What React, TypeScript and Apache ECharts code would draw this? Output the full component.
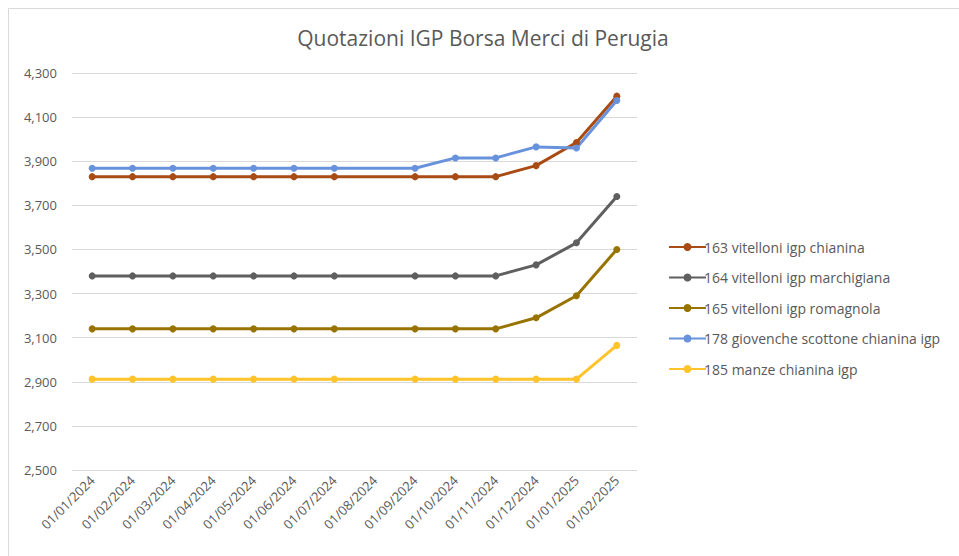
import React, { useEffect, useRef } from "react";
import * as echarts from "echarts";

const categories = [
  "01/01/2024", "01/02/2024", "01/03/2024", "01/04/2024", "01/05/2024", "01/06/2024", "01/07/2024",
  "01/08/2024", "01/09/2024", "01/10/2024", "01/11/2024", "01/12/2024", "01/01/2025", "01/02/2025",
];

const seriesNames = [
  "163 vitelloni igp chianina",
  "164 vitelloni igp marchigiana",
  "165 vitelloni igp romagnola",
  "178 giovenche scottone chianina igp",
  "185 manze chianina igp",
];

const chianina = [3830, 3830, 3830, 3830, 3830, 3830, 3830, null, 3830, 3830, 3830, 3880, 3985, 4195];
const marchigiana = [3380, 3380, 3380, 3380, 3380, 3380, 3380, null, 3380, 3380, 3380, 3430, 3530, 3740];
const romagnola = [3140, 3140, 3140, 3140, 3140, 3140, 3140, null, 3140, 3140, 3140, 3190, 3290, 3500];
const giovenche = [3868, 3868, 3868, 3868, 3868, 3868, 3868, null, 3868, 3915, 3915, 3965, 3960, 4175];
const manze = [2912, 2912, 2912, 2912, 2912, 2912, 2912, null, 2912, 2912, 2912, 2912, 2912, 3065];

const seriesValues = [chianina, marchigiana, romagnola, giovenche, manze];
const colors = ["#A84B14", "#5F5F5F", "#997300", "#6892DB", "#FFC42B"];

const FONT = "'Open Sans', 'Liberation Sans', sans-serif";
const TEXT = "#595959";

export default function App() {
  const ref = useRef<HTMLDivElement>(null);
  useEffect(() => {
    if (!ref.current) return;
    const chart = echarts.init(ref.current, null, { renderer: "svg" });
    chart.setOption({
      animation: false,
      backgroundColor: "#ffffff",
      textStyle: { fontFamily: FONT },
      title: {
        text: "Quotazioni IGP Borsa Merci di Perugia",
        left: 478,
        textAlign: "center",
        top: 22,
        textStyle: { fontFamily: FONT, fontSize: 21, fontWeight: "normal", color: TEXT },
      },
      graphic: [
        { type: "line", shape: { x1: 8.5, y1: 8.5, x2: 8.5, y2: 556 }, style: { stroke: "#D9D9D9", lineWidth: 1 } },
        { type: "line", shape: { x1: 8.5, y1: 8.5, x2: 959, y2: 8.5 }, style: { stroke: "#D9D9D9", lineWidth: 1 } },
      ],
      legend: {
        orient: "vertical",
        left: 663,
        top: 235,
        itemWidth: 37,
        itemHeight: 10,
        itemGap: 16.5,
        textStyle: { fontFamily: FONT, fontSize: 14, color: TEXT, padding: [0, 0, 0, -7] },
        data: seriesNames,
      },
      grid: { left: 72, right: 322, top: 73, bottom: 86, containLabel: false },
      xAxis: {
        type: "category",
        data: categories,
        boundaryGap: true,
        axisLine: { show: false },
        axisTick: { show: false },
        axisLabel: { rotate: 45, fontSize: 13, color: TEXT, fontFamily: FONT, margin: 8, interval: 0 },
      },
      yAxis: {
        type: "value",
        min: 2500,
        max: 4300,
        interval: 200,
        axisLine: { show: false },
        axisTick: { show: false },
        splitLine: { lineStyle: { color: "#D9D9D9", width: 1 } },
        axisLabel: {
          fontSize: 13,
          color: TEXT,
          fontFamily: FONT,
          margin: 15,
          formatter: (v: number) => v.toLocaleString("en-US"),
        },
      },
      series: seriesNames.map((name, i) => ({
        name,
        type: "line",
        data: seriesValues[i],
        connectNulls: true,
        symbol: "circle",
        symbolSize: 7,
        lineStyle: { width: 3, color: colors[i] },
        itemStyle: { color: colors[i] },
        emphasis: { disabled: true },
      })),
    });
    return () => chart.dispose();
  }, []);
  return <div ref={ref} style={{ position: "fixed", left: 0, top: 0, width: 959, height: 556 }} />;
}
